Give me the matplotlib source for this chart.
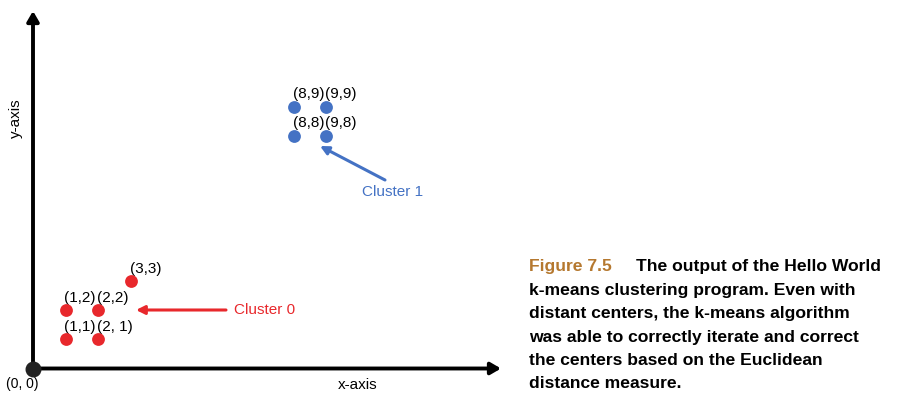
import matplotlib
matplotlib.use("Agg")
import matplotlib.pyplot as plt

W, H = 903, 413
DPI = 100

# ---- data ----
c0_x = [1, 2, 1, 2, 3]
c0_y = [1, 1, 2, 2, 3]
c0_labels = ["(1,1)", "(2, 1)", "(1,2)", "(2,2)", "(3,3)"]
c1_x = [8, 9, 8, 9]
c1_y = [8, 8, 9, 9]
c1_labels = ["(8,8)", "(9,8)", "(8,9)", "(9,9)"]
origin_x = [0]
origin_y = [0]
origin_label = "(0, 0)"

caption_title = "Figure 7.5"
caption_first = "The output of the Hello World"
caption_lines = [
    "k-means clustering program. Even with",
    "distant centers, the k-means algorithm",
    "was able to correctly iterate and correct",
    "the centers based on the Euclidean",
    "distance measure.",
]

RED = "#E8282C"
BLUE = "#4472C4"
BROWN = "#B5782F"
FONT = ["Liberation Sans", "DejaVu Sans"]

plt.rcParams['font.family'] = FONT

fig = plt.figure(figsize=(W / DPI, H / DPI), dpi=DPI)
ax = fig.add_axes([0, 0, 1, 1])
ax.axis("off")

# data scale: pixel x = ox + sx*x ; pixel y(top) = oy - sy*y
sx, ox = 32.6, 33.0
sy, oy = 29.1, 368.5
ax.set_xlim(-ox / sx, (W - ox) / sx)
ax.set_ylim((oy - H) / sy, oy / sy)


def px(xp, yp):
    return ((xp - ox) / sx, (oy - yp) / sy)


# axes arrows
ax.annotate("", xy=px(501, oy), xytext=(0, 0),
            arrowprops=dict(arrowstyle="-|>,head_length=0.6,head_width=0.35",
                            color="black", lw=2.8, shrinkA=0, shrinkB=0))
ax.annotate("", xy=px(ox, 11), xytext=(0, 0),
            arrowprops=dict(arrowstyle="-|>,head_length=0.6,head_width=0.35",
                            color="black", lw=2.8, shrinkA=0, shrinkB=0))
ax.scatter(origin_x, origin_y, s=110, color="#222222", zorder=5)
ax.text(*px(22, 384), origin_label, ha="center", va="center", fontsize=10)

ax.text(*px(358, 385), "x-axis", ha="center", va="center", fontsize=11)
ax.text(*px(16, 118), "y-axis", ha="center", va="center", fontsize=11, rotation=90)

# clusters
ax.scatter(c0_x, c0_y, s=85, color=RED, zorder=4, linewidths=0)
ax.scatter(c1_x, c1_y, s=85, color=BLUE, zorder=4, linewidths=0)
for x, y, lab in zip(c0_x + c1_x, c0_y + c1_y, c0_labels + c1_labels):
    ax.annotate(lab, xy=(x, y), xytext=(-0.8, 4.0), textcoords="offset points",
                ha="left", va="bottom", fontsize=11)

# cluster annotations
ax.annotate("", xy=px(136, 310), xytext=px(226, 310),
            arrowprops=dict(arrowstyle="-|>,head_length=0.5,head_width=0.25",
                            color=RED, lw=2.2, shrinkA=0, shrinkB=0))
ax.text(*px(265, 310), "Cluster 0", color=RED, ha="center", va="center", fontsize=11)
ax.annotate("", xy=px(320, 146), xytext=px(385, 180),
            arrowprops=dict(arrowstyle="-|>,head_length=0.5,head_width=0.25",
                            color=BLUE, lw=2.2, shrinkA=0, shrinkB=0))
ax.text(*px(393, 192), "Cluster 1", color=BLUE, ha="center", va="center", fontsize=11)

# caption


def fpx(xp, yp):
    return (xp / W, 1 - yp / H)


cap_fs = 12.6
fig.text(*fpx(529, 267), caption_title, color=BROWN, fontweight="bold",
         fontsize=cap_fs, va="center", ha="left")
fig.text(*fpx(636, 267), caption_first, color="black", fontweight="bold",
         fontsize=cap_fs, va="center", ha="left")
for i, line in enumerate(caption_lines):
    fig.text(*fpx(529, 290.5 + 23.3 * i), line, color="black", fontweight="bold",
             fontsize=cap_fs, va="center", ha="left")

fig.savefig("out.png", dpi=DPI)
